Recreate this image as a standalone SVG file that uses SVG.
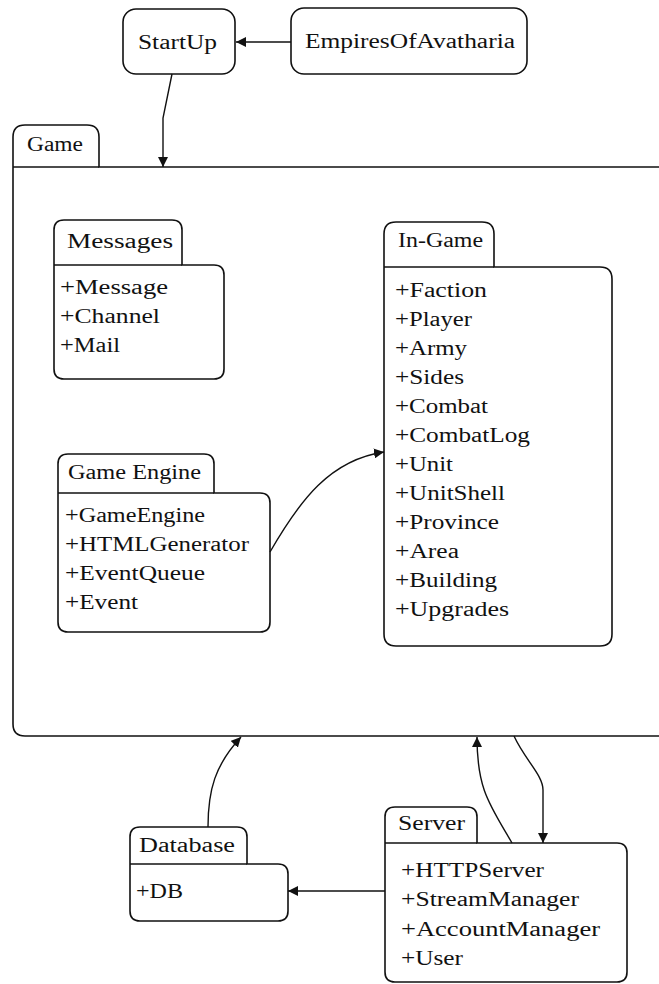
<svg xmlns="http://www.w3.org/2000/svg" width="659" height="984" viewBox="0 0 659 984">
  <defs>
    <style>
      .box { fill: #fff; stroke: #111; stroke-width: 1.6; }
      .ln { fill: none; stroke: #111; stroke-width: 1.6; }
      .c { fill: none; stroke: #111; stroke-width: 1.4; }
      text { font-family: "Liberation Serif", "Times New Roman", serif; font-size: 20px; fill: #111; }
    </style>
    <marker id="arrow" viewBox="0 0 10 10" refX="10" refY="5" markerWidth="10" markerHeight="10" markerUnits="userSpaceOnUse" orient="auto">
      <path d="M0,0 L10,5 L0,10 z" fill="#111"/>
    </marker>
  </defs>

  <rect width="659" height="984" fill="#fff"/>

  <!-- Game package (runs off the right edge) -->
  <g id="game">
    <path class="box" d="M13,724 V137 Q13,125 25,125 H87 Q99,125 99,137 V167 H672 V736 H25 Q13,736 13,724 Z"/>
    <path class="ln" d="M13,167 H99"/>
    <text x="27" y="151" textLength="56" lengthAdjust="spacingAndGlyphs">Game</text>
  </g>

  <!-- Simple nodes -->
  <g id="startup">
    <rect class="box" x="123" y="9" width="112" height="65" rx="13"/>
    <text x="138" y="49" textLength="79" lengthAdjust="spacingAndGlyphs">StartUp</text>
  </g>
  <g id="empires">
    <rect class="box" x="291" y="8" width="236" height="66" rx="13"/>
    <text x="305" y="48" textLength="210" lengthAdjust="spacingAndGlyphs">EmpiresOfAvatharia</text>
  </g>

  <!-- Messages package -->
  <g id="messages">
    <path class="box" d="M54,369 V230 Q54,220 64,220 H172 Q182,220 182,230 V265 H214 Q224,265 224,275 V369 Q224,379 214,379 H64 Q54,379 54,369 Z"/>
    <path class="ln" d="M54,265 H182"/>
    <text x="67" y="248" textLength="106" lengthAdjust="spacingAndGlyphs">Messages</text>
    <text x="60" y="294" textLength="108" lengthAdjust="spacingAndGlyphs">+Message</text>
    <text x="60" y="323" textLength="100" lengthAdjust="spacingAndGlyphs">+Channel</text>
    <text x="60" y="352" textLength="60" lengthAdjust="spacingAndGlyphs">+Mail</text>
  </g>

  <!-- Game Engine package -->
  <g id="game-engine">
    <path class="box" d="M58,622 V464 Q58,454 68,454 H204 Q214,454 214,464 V493 H260 Q270,493 270,503 V622 Q270,632 260,632 H68 Q58,632 58,622 Z"/>
    <path class="ln" d="M58,493 H214"/>
    <text x="68" y="479" textLength="133" lengthAdjust="spacingAndGlyphs">Game Engine</text>
    <text x="65" y="522" textLength="140" lengthAdjust="spacingAndGlyphs">+GameEngine</text>
    <text x="65" y="551" textLength="184" lengthAdjust="spacingAndGlyphs">+HTMLGenerator</text>
    <text x="65" y="580" textLength="140" lengthAdjust="spacingAndGlyphs">+EventQueue</text>
    <text x="65" y="609" textLength="73" lengthAdjust="spacingAndGlyphs">+Event</text>
  </g>

  <!-- In-Game package -->
  <g id="in-game">
    <path class="box" d="M384,634 V234 Q384,222 396,222 H482 Q494,222 494,234 V267 H600 Q612,267 612,279 V634 Q612,646 600,646 H396 Q384,646 384,634 Z"/>
    <path class="ln" d="M384,267 H494"/>
    <text x="398" y="247" textLength="85" lengthAdjust="spacingAndGlyphs">In-Game</text>
    <text x="395" y="297" textLength="92" lengthAdjust="spacingAndGlyphs">+Faction</text>
    <text x="395" y="326" textLength="77" lengthAdjust="spacingAndGlyphs">+Player</text>
    <text x="395" y="355" textLength="72" lengthAdjust="spacingAndGlyphs">+Army</text>
    <text x="395" y="384" textLength="69" lengthAdjust="spacingAndGlyphs">+Sides</text>
    <text x="395" y="413" textLength="93" lengthAdjust="spacingAndGlyphs">+Combat</text>
    <text x="395" y="442" textLength="135" lengthAdjust="spacingAndGlyphs">+CombatLog</text>
    <text x="395" y="471" textLength="58" lengthAdjust="spacingAndGlyphs">+Unit</text>
    <text x="395" y="500" textLength="110" lengthAdjust="spacingAndGlyphs">+UnitShell</text>
    <text x="395" y="529" textLength="104" lengthAdjust="spacingAndGlyphs">+Province</text>
    <text x="395" y="558" textLength="64" lengthAdjust="spacingAndGlyphs">+Area</text>
    <text x="395" y="587" textLength="102" lengthAdjust="spacingAndGlyphs">+Building</text>
    <text x="395" y="616" textLength="114" lengthAdjust="spacingAndGlyphs">+Upgrades</text>
  </g>

  <!-- Database package -->
  <g id="database">
    <path class="box" d="M130,911 V837 Q130,827 140,827 H237 Q247,827 247,837 V864 H278 Q288,864 288,874 V911 Q288,921 278,921 H140 Q130,921 130,911 Z"/>
    <path class="ln" d="M130,864 H247"/>
    <text x="139" y="852" textLength="96" lengthAdjust="spacingAndGlyphs">Database</text>
    <text x="136" y="898" textLength="47" lengthAdjust="spacingAndGlyphs">+DB</text>
  </g>

  <!-- Server package -->
  <g id="server">
    <path class="box" d="M385,972 V817 Q385,807 395,807 H467 Q477,807 477,817 V843 H617 Q627,843 627,853 V972 Q627,982 617,982 H395 Q385,982 385,972 Z"/>
    <path class="ln" d="M385,843 H477"/>
    <text x="398" y="830" textLength="67" lengthAdjust="spacingAndGlyphs">Server</text>
    <text x="401" y="877" textLength="143" lengthAdjust="spacingAndGlyphs">+HTTPServer</text>
    <text x="401" y="906" textLength="178" lengthAdjust="spacingAndGlyphs">+StreamManager</text>
    <text x="401" y="936" textLength="199" lengthAdjust="spacingAndGlyphs">+AccountManager</text>
    <text x="401" y="965" textLength="62" lengthAdjust="spacingAndGlyphs">+User</text>
  </g>

  <!-- Connectors -->
  <g id="connectors">
    <path class="c" d="M291,42 H236" marker-end="url(#arrow)"/>
    <path class="c" d="M172,74 L163,118 V167" marker-end="url(#arrow)"/>
    <path class="c" d="M270,552 C300,500 330,460 384,452" marker-end="url(#arrow)"/>
    <path class="c" d="M208,827 C208,790 215,765 241,737" marker-end="url(#arrow)"/>
    <path class="c" d="M512,843 C490,805 477,790 477,737" marker-end="url(#arrow)"/>
    <path class="c" d="M514,736 C525,760 543,775 543,790 V843" marker-end="url(#arrow)"/>
    <path class="c" d="M385,891 H288" marker-end="url(#arrow)"/>
  </g>
</svg>
